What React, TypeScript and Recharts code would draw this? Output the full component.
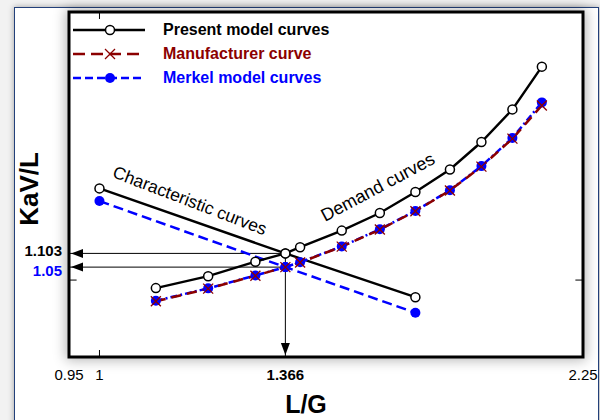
import {
  LineChart,
  Line,
  XAxis,
  YAxis,
  ReferenceArea,
  ReferenceLine,
  ReferenceDot,
  Legend,
  Label,
} from "recharts";

const FONT = '"Liberation Sans", Arial, sans-serif';

// L/G values along the demand curves (shared by all three models)
const demandLG = [1.111, 1.214, 1.307, 1.366, 1.395, 1.477, 1.552, 1.622, 1.69, 1.752, 1.813, 1.871];
const presentDemand = [0.969, 1.015, 1.071, 1.103, 1.127, 1.191, 1.259, 1.34, 1.427, 1.533, 1.659, 1.824];
const manufacturerDemand = [0.918, 0.967, 1.017, 1.05, 1.068, 1.129, 1.195, 1.266, 1.346, 1.438, 1.546, 1.674];
const merkelDemand = [0.92, 0.968, 1.018, 1.05, 1.069, 1.13, 1.196, 1.267, 1.347, 1.44, 1.549, 1.686];

// characteristic curves
const charLG = [1.0, 1.366, 1.622];
const presentChar = [1.354, 1.103, 0.934];
const merkelChar = [1.305, 1.05, 0.874];

// operating point
const opLG = 1.366;
const opPresent = 1.103;
const opMerkel = 1.05;

const X_MIN = 0.94;
const X_MAX = 1.952;
const Y_MIN = 0.703;
const Y_MAX = 2.035;

const xTickValues = [X_MIN, 1, 1.366, X_MAX];
const xTickLabels = ["0.95", "1", "1.366", "2.25"];
const yTickValues = [1.103, 1.05];
const yTickLabels = ["1.103", "1.05"];

const legendNames = ["Present model curves", "Manufacturer curve", "Merkel model curves"];

const BLACK = "#000";
const RED = "#8b0000";
const BLUE = "#0000ff";

const toPoints = (xs: number[], ys: number[]) => xs.map((x, i) => ({ x, y: ys[i] }));

const XTick = ({ x, y, payload }: any) => {
  const i = xTickValues.indexOf(payload.value);
  const label = xTickLabels[i];
  return (
    <text x={x} y={y + 15} textAnchor="middle" fontSize={15} fontFamily={FONT}
      fontWeight={label === "1.366" ? 700 : 400} fill="#000">
      {label}
    </text>
  );
};

const YTick = ({ x, y, payload }: any) => {
  const i = yTickValues.indexOf(payload.value);
  return (
    <text x={x + 1} y={y + (i === 0 ? -3 : 3)} textAnchor="end" dominantBaseline="central"
      fontSize={15} fontWeight={700} fontFamily={FONT} fill={i === 0 ? BLACK : BLUE}>
      {yTickLabels[i]}
    </text>
  );
};

const CrossDot = (props: any) => {
  const { cx, cy, index } = props;
  const s = 5;
  return (
    <g key={`x-${index}`} stroke={RED} strokeWidth={1.3}>
      <line x1={cx - s} y1={cy - s} x2={cx + s} y2={cy + s} />
      <line x1={cx - s} y1={cy + s} x2={cx + s} y2={cy - s} />
    </g>
  );
};

const LegendBox = () => (
  <div style={{ fontFamily: FONT }}>
    {legendNames.map((name, i) => (
      <div key={name} style={{ display: "flex", alignItems: "center", height: 24 }}>
        <svg width={72} height={14}>
          {i === 0 && (
            <>
              <line x1={0} y1={7} x2={72} y2={7} stroke={BLACK} strokeWidth={2.5} />
              <circle cx={37} cy={7} r={4.5} fill="#fff" stroke={BLACK} strokeWidth={1.5} />
            </>
          )}
          {i === 1 && (
            <>
              <line x1={0} y1={7} x2={72} y2={7} stroke={RED} strokeWidth={2.5} strokeDasharray="12 6" />
              <g stroke={RED} strokeWidth={1.3}>
                <line x1={32} y1={2} x2={42} y2={12} />
                <line x1={32} y1={12} x2={42} y2={2} />
              </g>
            </>
          )}
          {i === 2 && (
            <>
              <line x1={0} y1={7} x2={72} y2={7} stroke={BLUE} strokeWidth={2.5} strokeDasharray="8 4" />
              <circle cx={37} cy={7} r={5} fill={BLUE} />
            </>
          )}
        </svg>
        <span style={{ marginLeft: 18, fontWeight: 700, fontSize: 16, color: i === 0 ? BLACK : i === 1 ? RED : BLUE }}>
          {name}
        </span>
      </div>
    ))}
  </div>
);

const LeftArrow = ({ cx, cy }: any) => (
  <path d={`M${cx + 2},${cy} L${cx + 14},${cy - 4.5} L${cx + 14},${cy + 4.5} Z`} fill={BLACK} />
);
const DownArrow = ({ cx, cy }: any) => (
  <path d={`M${cx},${cy - 2} L${cx - 4.5},${cy - 14} L${cx + 4.5},${cy - 14} Z`} fill={BLACK} />
);

const App = () => {
  return (
    <div style={{ position: "fixed", left: 0, top: 0, width: 600, height: 420, background: "#f2f2f2", overflow: "hidden" }}>
      <div
        style={{
          position: "absolute", left: 14, top: 7, width: 583, height: 430,
          background: "#fff", border: "1px solid #23407a", boxShadow: "0 0 6px rgba(0,0,0,0.35)",
        }}
      />
      <div
        style={{
          position: "absolute", left: 69, top: 12, width: 514, height: 345,
          background: "#fff", boxShadow: "0 0 12px 3px rgba(0,0,0,0.3)",
        }}
      />
      <div style={{ position: "absolute", left: 0, top: 0 }}>
        <LineChart width={600} height={420} margin={{ top: 12, right: 17, bottom: 0, left: 0 }}>
          <XAxis dataKey="x" type="number" domain={[X_MIN, X_MAX]} ticks={xTickValues} allowDataOverflow
            height={63} tickLine={false} axisLine={false} tick={<XTick />} interval={0}>
            <Label
              content={({ viewBox }: any) => (
                <text x={viewBox.x + viewBox.width / 2 - 20} y={viewBox.y + viewBox.height - 7}
                  textAnchor="middle" fontSize={25} fontWeight={700} fontFamily={FONT} fill="#000">
                  L/G
                </text>
              )}
            />
          </XAxis>
          <YAxis dataKey="y" type="number" domain={[Y_MIN, Y_MAX]} ticks={yTickValues} allowDataOverflow
            width={69} tickLine={false} axisLine={false} tick={<YTick />} interval={0}>
            <Label
              content={() => (
                <text x={29} y={189} transform="rotate(-90 29 189)" textAnchor="middle" dominantBaseline="central"
                  fontSize={26} fontWeight={700} fontFamily={FONT} fill="#000">
                  KaV/L
                </text>
              )}
            />
          </YAxis>

          <ReferenceArea x1={X_MIN} x2={X_MAX} y1={Y_MIN} y2={Y_MAX} fill="none" stroke="#000" strokeWidth={3} ifOverflow="visible" />

          {/* inward tick marks */}
          <ReferenceLine segment={[{ x: 1, y: Y_MAX }, { x: 1, y: Y_MAX - 0.027 }]} stroke="#000" strokeWidth={1} ifOverflow="visible" />
          <ReferenceLine segment={[{ x: 1, y: Y_MIN }, { x: 1, y: Y_MIN + 0.027 }]} stroke="#000" strokeWidth={1} ifOverflow="visible" />
          <ReferenceLine segment={[{ x: X_MIN, y: 1 }, { x: X_MIN + 0.015, y: 1 }]} stroke="#000" strokeWidth={1} ifOverflow="visible" />
          <ReferenceLine segment={[{ x: X_MAX, y: 1 }, { x: X_MAX - 0.015, y: 1 }]} stroke="#000" strokeWidth={1} ifOverflow="visible" />

          {/* operating point guides */}
          <ReferenceLine segment={[{ x: opLG, y: opPresent }, { x: X_MIN, y: opPresent }]} stroke="#000" strokeWidth={1} ifOverflow="visible" />
          <ReferenceLine segment={[{ x: opLG, y: opMerkel }, { x: X_MIN, y: opMerkel }]} stroke="#000" strokeWidth={1} ifOverflow="visible" />
          <ReferenceLine segment={[{ x: opLG, y: opPresent }, { x: opLG, y: Y_MIN }]} stroke="#000" strokeWidth={1} ifOverflow="visible" />
          <ReferenceDot x={X_MIN} y={opPresent} ifOverflow="visible" shape={(p: any) => <LeftArrow {...p} />} />
          <ReferenceDot x={X_MIN} y={opMerkel} ifOverflow="visible" shape={(p: any) => <LeftArrow {...p} />} />
          <ReferenceDot x={opLG} y={Y_MIN} ifOverflow="visible" shape={(p: any) => <DownArrow {...p} />} />

          <Line data={toPoints(charLG, merkelChar)} dataKey="y" stroke={BLUE} strokeWidth={2.5}
            strokeDasharray="10 5" dot={{ r: 5, fill: BLUE, stroke: "none" }} isAnimationActive={false} />
          <Line data={toPoints(charLG, presentChar)} dataKey="y" stroke={BLACK} strokeWidth={2.4}
            dot={{ r: 4.5, fill: "#fff", stroke: BLACK, strokeWidth: 1.5 }} isAnimationActive={false} />
          <Line data={toPoints(demandLG, merkelDemand)} dataKey="y" stroke={BLUE} strokeWidth={2.5}
            strokeDasharray="7 3 2 3" dot={{ r: 5, fill: BLUE, stroke: "none" }} isAnimationActive={false} />
          <Line data={toPoints(demandLG, manufacturerDemand)} dataKey="y" stroke={RED} strokeWidth={2.5}
            strokeDasharray="10 6" dot={(p: any) => <CrossDot key={`m-${p.index}`} {...p} />} isAnimationActive={false} />
          <Line data={toPoints(demandLG, presentDemand)} dataKey="y" stroke={BLACK} strokeWidth={2.4}
            dot={{ r: 4.5, fill: "#fff", stroke: BLACK, strokeWidth: 1.5 }} isAnimationActive={false} />

          <ReferenceDot x={1.178} y={1.307} ifOverflow="visible"
            shape={(p: any) => (
              <text x={p.cx} y={p.cy} transform={`rotate(21 ${p.cx} ${p.cy})`} textAnchor="middle"
                dominantBaseline="central" fontSize={17.5} fontFamily={FONT} fill="#000">
                Characteristic curves
              </text>
            )} />
          <ReferenceDot x={1.548} y={1.359} ifOverflow="visible"
            shape={(p: any) => (
              <text x={p.cx} y={p.cy} transform={`rotate(-28 ${p.cx} ${p.cy})`} textAnchor="middle"
                dominantBaseline="central" fontSize={18} fontFamily={FONT} fill="#000">
                Demand curves
              </text>
            )} />

          <Legend layout="horizontal" verticalAlign="middle" align="center" content={<LegendBox />}
            wrapperStyle={{ left: 73, top: 18, width: 320 }} />
        </LineChart>
      </div>
    </div>
  );
};

export default App;
